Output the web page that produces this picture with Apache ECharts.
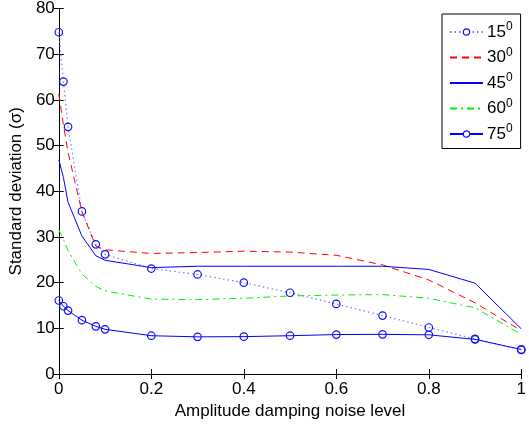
<!DOCTYPE html>
<html>
<head>
<meta charset="utf-8">
<script src="https://cdn.jsdelivr.net/npm/echarts@6/dist/echarts.min.js"></script>
<style>html,body{margin:0;padding:0;background:#fff}#c{width:529px;height:425px}</style>
</head>
<body>
<div id="c"></div>
<script>
var noiseLevels = [0, 0.01, 0.02, 0.05, 0.08, 0.1, 0.2, 0.3, 0.4, 0.5, 0.6, 0.7, 0.8, 0.9, 1.0];
var s15 = [74.8, 64.0, 54.1, 35.6, 28.4, 26.2, 23.1, 21.8, 20.0, 17.8, 15.35, 12.8, 10.2, 7.7, 5.3];
var s30 = [61.3, 54.5, 48.5, 35.5, 28.0, 27.2, 26.4, 26.6, 26.9, 26.7, 26.0, 23.9, 20.6, 15.6, 9.5];
var s45 = [46.9, 43.0, 37.6, 30.2, 25.9, 24.9, 23.3, 23.6, 23.6, 23.6, 23.6, 23.6, 22.9, 19.9, 9.9];
var s60 = [31.6, 29.5, 27.0, 21.9, 19.2, 18.2, 16.4, 16.3, 16.6, 17.1, 17.3, 17.4, 16.6, 14.5, 8.7];
var s75 = [16.1, 14.85, 13.9, 11.8, 10.45, 9.8, 8.4, 8.15, 8.2, 8.4, 8.65, 8.7, 8.6, 7.6, 5.4];
var seriesNames = ['15', '30', '45', '60', '75'];
var hasMarker = [true, false, false, false, true];
var xTicks = [0, 0.2, 0.4, 0.6, 0.8, 1];
var yTicks = [0, 10, 20, 30, 40, 50, 60, 70, 80];

function pts(arr) { return noiseLevels.map(function (x, i) { return [x, arr[i]]; }); }

var FONT = 'Liberation Sans';
var chart = echarts.init(document.getElementById('c'), null, {renderer: 'canvas'});

var tickStyle = {show: true, inside: true, length: 5, lineStyle: {color: '#000', width: 1}};
var axLine = {show: true, lineStyle: {color: '#000', width: 1}};
var lbl = {color: '#000', fontFamily: FONT, fontSize: 17};

var circle = {color: 'rgba(0,0,0,0)', borderColor: '#1010ff', borderWidth: 1.2};

var legendData = seriesNames.map(function (n, i) {
  return hasMarker[i] ? {name: n, itemStyle: {color: '#fff', borderColor: '#1010ff', borderWidth: 1.2}}
                      : {name: n, itemStyle: {color: 'rgba(0,0,0,0)', borderColor: 'rgba(0,0,0,0)', borderWidth: 0}};
});

chart.setOption({
  animation: false,
  backgroundColor: '#fff',
  grid: {left: 58.8, right: 2.7, top: 7, bottom: 48, containLabel: false},
  legend: {
    orient: 'vertical',
    left: 442, top: 14,
    padding: [7, 8, 6, 7],
    itemWidth: 33, itemHeight: 8, itemGap: 6,
    backgroundColor: '#fff', borderColor: '#000', borderWidth: 1, borderRadius: 0,
    data: legendData,
    formatter: function (n) { return '{a|' + n + '}{b|0}'; },
    textStyle: {
      color: '#000', fontFamily: FONT, fontSize: 17, padding: [0, 0, 0, -1],
      rich: {a: {fontSize: 17, fontFamily: FONT, color: '#000'},
             b: {fontSize: 12, fontFamily: FONT, color: '#000', padding: [0, 0, 10, 0]}}
    }
  },
  xAxis: [{
    type: 'value', min: 0, max: 1, interval: 0.2, position: 'bottom',
    name: 'Amplitude damping noise level', nameLocation: 'middle', nameGap: 26,
    nameTextStyle: {color: '#000', fontFamily: FONT, fontSize: 17},
    axisLine: axLine, axisTick: tickStyle, splitLine: {show: false},
    axisLabel: Object.assign({margin: 7, formatter: function (v) { return String(v); }}, lbl)
  }, {
    type: 'value', min: 0, max: 1, interval: 0.2, position: 'top',
    axisLine: axLine, axisTick: tickStyle, splitLine: {show: false}, axisLabel: {show: false}
  }],
  yAxis: [{
    type: 'value', min: 0, max: 80, interval: 10, position: 'left',
    name: 'Standard deviation (σ)', nameLocation: 'middle', nameGap: 29,
    nameTextStyle: {color: '#000', fontFamily: FONT, fontSize: 17},
    axisLine: axLine, axisTick: tickStyle, splitLine: {show: false},
    axisLabel: Object.assign({margin: 4}, lbl)
  }, {
    type: 'value', min: 0, max: 80, interval: 10, position: 'right',
    axisLine: axLine, axisTick: tickStyle, splitLine: {show: false}, axisLabel: {show: false}
  }],
  series: [
    {name: seriesNames[0], type: 'line', data: pts(s15), symbol: 'circle', symbolSize: 7.5,
     itemStyle: circle, lineStyle: {color: '#7878ff', width: 1.2, type: [1.5, 3]}},
    {name: seriesNames[1], type: 'line', data: pts(s30), symbol: 'none',
     itemStyle: {color: '#ff0000'}, lineStyle: {color: '#ff0000', width: 1, type: [7, 5]}},
    {name: seriesNames[2], type: 'line', data: pts(s45), symbol: 'none',
     itemStyle: {color: '#0000ff'}, lineStyle: {color: '#0000ff', width: 1, type: 'solid'}},
    {name: seriesNames[3], type: 'line', data: pts(s60), symbol: 'none',
     itemStyle: {color: '#00ee00'}, lineStyle: {color: '#00ee00', width: 1, type: [7, 4, 2, 4]}},
    {name: seriesNames[4], type: 'line', data: pts(s75), symbol: 'circle', symbolSize: 7.5,
     itemStyle: circle, lineStyle: {color: '#0000ff', width: 1, type: 'solid'}}
  ]
});
</script>
</body>
</html>
